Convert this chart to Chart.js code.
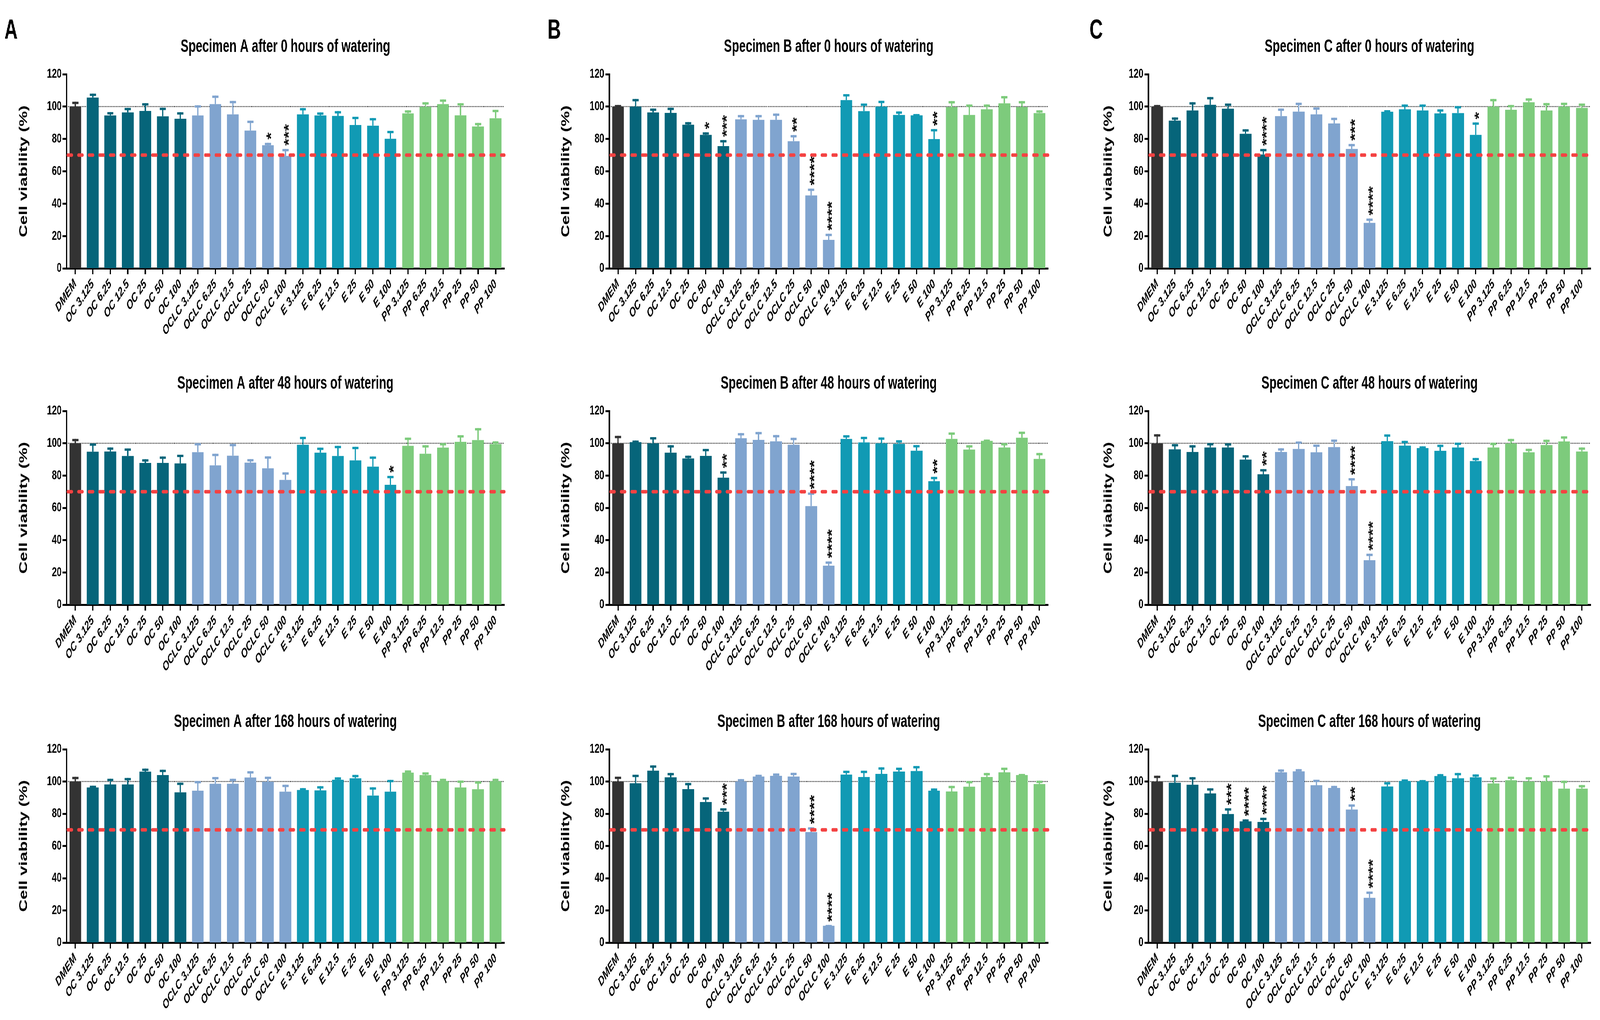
<!DOCTYPE html>
<html>
<head>
<meta charset="utf-8">
<script src="https://cdn.jsdelivr.net/npm/chart.js@4.4.1/dist/chart.umd.min.js"></script>
<style>
  html, body { margin: 0; padding: 0; background: #fff; overflow: hidden; }
  #wrap { position: relative; overflow: hidden; background: #fff; }
  #page { position: absolute; left: 0; top: 0; width: 6206px; height: 2611px; background: #fff; transform-origin: 0 0; }
  #page canvas { position: absolute; }
</style>
</head>
<body>
<div id="wrap"><div id="page"></div></div>
<script>
// categories
const labels = ['DMEM', 'OC 3.125', 'OC 6.25', 'OC 12.5', 'OC 25', 'OC 50', 'OC 100',
  'OCLC 3.125', 'OCLC 6.25', 'OCLC 12.5', 'OCLC 25', 'OCLC 50', 'OCLC 100',
  'E 3.125', 'E 6.25', 'E 12.5', 'E 25', 'E 50', 'E 100',
  'PP 3.125', 'PP 6.25', 'PP 12.5', 'PP 25', 'PP 50', 'PP 100'];
const groupOf = [0, 1, 1, 1, 1, 1, 1, 2, 2, 2, 2, 2, 2, 3, 3, 3, 3, 3, 3, 4, 4, 4, 4, 4, 4];
const groupColors = ['#333333', '#06657a', '#80a4cf', '#119ab4', '#7dcb7c'];
const yTicks = [0, 20, 40, 60, 80, 100, 120];
const titles = [
  ['Specimen A after 0 hours of watering', 'Specimen B after 0 hours of watering', 'Specimen C after 0 hours of watering'],
  ['Specimen A after 48 hours of watering', 'Specimen B after 48 hours of watering', 'Specimen C after 48 hours of watering'],
  ['Specimen A after 168 hours of watering', 'Specimen B after 168 hours of watering', 'Specimen C after 168 hours of watering']
];
const letters = ['A', 'B', 'C'];

// means, upper error (SD) and significance marks, one set per panel
const meanA0 = [100, 105.6, 94.5, 96.4, 97.3, 94.0, 92.5, 94.5, 101.5, 95.2, 85.2, 76.1, 69.5, 95.2, 94.5, 94.2, 88.6, 88.2, 80.1, 95.8, 99.9, 101.5, 94.6, 87.7, 92.8];
const errA0 = [3.0, 2.4, 2.1, 2.8, 4.8, 5.3, 4.0, 6.3, 5.3, 8.3, 6.1, 1.5, 4.3, 3.9, 1.9, 3.0, 5.1, 4.7, 4.9, 1.9, 2.8, 2.9, 7.5, 2.2, 5.2];
const starsA0 = ['', '', '', '', '', '', '', '', '', '', '', '*', '***', '', '', '', '', '', '', '', '', '', '', '', ''];

const meanB0 = [100, 100, 96.4, 96.1, 88.8, 82.5, 75.6, 92.1, 91.8, 91.8, 78.6, 45.1, 17.6, 104, 97.2, 100, 94.8, 94.6, 79.9, 99.7, 94.8, 98.3, 102, 99.7, 96];
const errB0 = [1.0, 4.7, 2.4, 3.2, 1.6, 1.6, 3.7, 2.7, 3.0, 3.9, 3.8, 4.2, 3.8, 3.7, 4.7, 3.6, 2.2, 0.8, 6.2, 3.7, 6.5, 3.0, 4.5, 3.7, 1.7];
const starsB0 = ['', '', '', '', '', '*', '***', '', '', '', '**', '****', '****', '', '', '', '', '', '**', '', '', '', '', '', ''];

const meanC0 = [100, 91.3, 97.6, 101.1, 98.7, 83.2, 70.4, 94.1, 96.9, 95.2, 89.6, 73.8, 28.1, 96.8, 98.3, 97.6, 95.8, 96.0, 82.5, 100, 98, 102.7, 97.6, 100, 99.2];
const errC0 = [1.0, 2.0, 5.1, 4.8, 3.2, 2.8, 3.4, 4.7, 5.5, 4.3, 3.5, 3.1, 2.7, 1.0, 3.0, 3.7, 2.5, 4.3, 7.7, 4.7, 3.0, 2.4, 4.6, 2.4, 2.7];
const starsC0 = ['', '', '', '', '', '', '****', '', '', '', '', '***', '****', '', '', '', '', '', '*', '', '', '', '', '', ''];

const meanA48 = [100, 94.8, 94.9, 92.1, 87.8, 87.8, 87.5, 94.5, 86.3, 92.3, 88, 84.5, 77.3, 99.1, 94.2, 92.1, 89.4, 85.5, 74.3, 98.4, 93.5, 97.3, 100.9, 102, 99.5];
const errA48 = [2.7, 5.1, 2.5, 4.7, 2.3, 4.0, 5.4, 5.6, 7.2, 7.3, 2.2, 7.4, 4.7, 4.9, 3.1, 6.3, 8.4, 6.3, 5.5, 5.1, 5.3, 2.8, 4.1, 7.4, 1.7];
const starsA48 = ['', '', '', '', '', '', '', '', '', '', '', '', '', '', '', '', '', '', '*', '', '', '', '', '', ''];

const meanB48 = [100, 100.7, 100, 94.2, 90.6, 92.2, 78.7, 103.1, 102.1, 101.2, 99.1, 61.1, 24.2, 102.7, 100.5, 100, 99.6, 95.4, 76.5, 102.7, 96.1, 101.5, 97.4, 103.4, 90.3];
const errB48 = [4.6, 1.0, 3.8, 4.6, 1.7, 4.3, 3.9, 3.2, 4.9, 3.9, 4.3, 8.4, 2.6, 2.3, 3.5, 3.6, 2.3, 3.5, 2.7, 4.0, 2.7, 0.8, 2.7, 3.8, 3.7];
const starsB48 = ['', '', '', '', '', '', '**', '', '', '', '', '****', '****', '', '', '', '', '', '**', '', '', '', '', '', ''];

const meanC48 = [100, 96.2, 94.6, 97.4, 97.4, 89.9, 80.8, 94.6, 96.5, 94.4, 97.6, 73.5, 27.6, 101.3, 98.5, 97, 95.3, 97.4, 89, 97.4, 99.9, 94.4, 98.9, 101.1, 94.9];
const errC48 = [5.6, 3.3, 4.2, 2.7, 2.6, 2.7, 3.2, 2.3, 4.6, 4.8, 4.7, 4.9, 4.0, 4.2, 3.0, 1.1, 3.8, 3.0, 1.9, 2.9, 2.8, 2.2, 3.3, 3.2, 2.5];
const starsC48 = ['', '', '', '', '', '', '**', '', '', '', '', '****', '****', '', '', '', '', '', '', '', '', '', '', '', ''];

const meanA168 = [100, 96.3, 98.2, 98.2, 106.1, 104, 93.3, 94.3, 98.6, 98.6, 102.5, 99.9, 93.7, 94.7, 94.5, 101.1, 102, 91.3, 93.7, 105.5, 104, 100.3, 96.3, 95.2, 100.2];
const errA168 = [2.9, 1.1, 3.5, 4.0, 1.9, 3.3, 6.0, 6.0, 4.2, 3.1, 3.9, 3.1, 4.3, 1.2, 2.6, 1.5, 2.1, 5.1, 7.3, 1.4, 1.7, 1.4, 4.3, 4.9, 1.5];
const starsA168 = ['', '', '', '', '', '', '', '', '', '', '', '', '', '', '', '', '', '', '', '', '', '', '', '', ''];

const meanB168 = [100, 98.9, 106.7, 102.6, 95.3, 87.3, 81.3, 100, 103.1, 103.5, 103.1, 68.6, 10.5, 104.3, 102.8, 104.7, 106.2, 106.5, 94.3, 93.8, 96.8, 102.8, 105.7, 104, 98.4];
const errB168 = [3.0, 5.3, 3.3, 2.7, 3.8, 2.9, 2.1, 1.5, 1.1, 1.5, 2.3, 3.0, 0.5, 2.4, 3.9, 4.1, 2.4, 3.1, 1.4, 3.5, 3.5, 2.5, 2.9, 0.7, 2.1];
const starsB168 = ['', '', '', '', '', '', '***', '', '', '', '', '****', '****', '', '', '', '', '', '', '', '', '', '', '', ''];

const meanC168 = [100, 99.2, 98, 92.6, 79.8, 75.3, 74.9, 105.7, 106.3, 97.7, 96, 82.6, 27.8, 96.9, 100.3, 100.1, 103.4, 102, 102.6, 98.8, 100.8, 100, 100.1, 95.6, 95.6];
const errC168 = [3.6, 5.0, 4.7, 3.2, 3.6, 1.2, 2.6, 1.8, 1.4, 3.4, 1.3, 3.2, 3.9, 2.7, 1.0, 0.8, 1.2, 3.3, 1.8, 3.8, 2.2, 2.7, 3.8, 4.9, 2.2];
const starsC168 = ['', '', '', '', '***', '****', '****', '', '', '', '', '**', '****', '', '', '', '', '', '', '', '', '', '', '', ''];

const viabilityLimit = 70;
const controlLevel = 100;

// page layout (design pixels, 6206 x 2611)
const FONT = "'Liberation Sans', Arial, Helvetica, sans-serif";
const PAGE_W = 6206, PAGE_H = 2611;
const colLeft = [0, 2078, 4136];
const colWidth = [2078, 2058, 2070];
const rowTop = [0, 870, 1740];
const rowHeight = [870, 870, 871];
const axisLeft = [258, 285, 318];
const rightPad = [122, 70, 36];
const plotTop = [190, 182, 178];
const plotBottom = [687, 678, 673];
const yTitleX = [93, 118, 164];
const letterX = [17, 46, 90];

const panelData = [
  [[meanA0, errA0, starsA0], [meanB0, errB0, starsB0], [meanC0, errC0, starsC0]],
  [[meanA48, errA48, starsA48], [meanB48, errB48, starsB48], [meanC48, errC48, starsC48]],
  [[meanA168, errA168, starsA168], [meanB168, errB168, starsB168], [meanC168, errC168, starsC168]]
];

const barColors = groupOf.map(g => groupColors[g]);

// stretch the design page over the whole viewport we are given
const vw = window.innerWidth || PAGE_W, vh = window.innerHeight || PAGE_H;
const SX = vw / PAGE_W, SY = vh / PAGE_H;
const DPR = Math.max(SX, SY) * (window.devicePixelRatio || 1);

function decoPlugin(r, c, mean, err, stars) {
  return {
    id: 'deco' + r + c,
    beforeDatasetsDraw(chart) {
      const ctx = chart.ctx, a = chart.chartArea, y = chart.scales.y;
      const y100 = y.getPixelForValue(controlLevel);
      ctx.save();
      ctx.strokeStyle = '#111';
      ctx.lineWidth = 2.5;
      ctx.setLineDash([3, 3]);
      ctx.beginPath();
      ctx.moveTo(a.left, y100);
      ctx.lineTo(a.right, y100);
      ctx.stroke();
      ctx.restore();
    },
    afterDatasetsDraw(chart) {
      const ctx = chart.ctx, a = chart.chartArea, y = chart.scales.y;
      const bars = chart.getDatasetMeta(0).data;
      ctx.save();
      // error bars (upper only)
      bars.forEach((bar, i) => {
        const top = y.getPixelForValue(mean[i] + err[i]);
        ctx.strokeStyle = barColors[i];
        ctx.fillStyle = barColors[i];
        ctx.lineWidth = 5;
        ctx.beginPath();
        ctx.moveTo(bar.x, bar.y);
        ctx.lineTo(bar.x, top);
        ctx.stroke();
        ctx.fillRect(bar.x - 12, top, 24, 6);
      });
      // 70 % threshold
      const y70 = y.getPixelForValue(viabilityLimit);
      ctx.strokeStyle = '#f44242';
      ctx.lineWidth = 9;
      ctx.lineCap = 'round';
      ctx.setLineDash([16, 25]);
      ctx.beginPath();
      ctx.moveTo(a.left + 5, y70);
      ctx.lineTo(a.right, y70);
      ctx.stroke();
      ctx.setLineDash([]);
      // significance marks
      const fs = 48;
      ctx.fillStyle = '#111';
      ctx.font = 'bold ' + fs + 'px ' + FONT;
      ctx.textAlign = 'left';
      ctx.textBaseline = 'alphabetic';
      bars.forEach((bar, i) => {
        if (!stars[i]) return;
        const top = y.getPixelForValue(mean[i] + err[i]);
        ctx.save();
        ctx.translate(bar.x + 0.58 * fs, top - 8);
        ctx.rotate(-Math.PI / 2);
        ctx.fillText(stars[i], 0, 0);
        ctx.restore();
      });
      // titles
      ctx.fillStyle = '#000';
      ctx.font = 'bold 46px ' + FONT;
      ctx.textAlign = 'center';
      ctx.fillText(titles[r][c], (a.left + a.right) / 2, a.top - 57);
      if (r === 0) {
        ctx.font = 'bold 71px ' + FONT;
        ctx.textAlign = 'left';
        ctx.fillText(letters[c], letterX[c], 99);
      }
      ctx.save();
      ctx.translate(yTitleX[c], (a.top + a.bottom) / 2);
      ctx.rotate(-Math.PI / 2);
      ctx.font = 'bold 44px ' + FONT;
      ctx.textAlign = 'center';
      ctx.textBaseline = 'middle';
      ctx.fillText('Cell viability (%)', 0, 0);
      ctx.restore();
      ctx.restore();
    }
  };
}

const wrap = document.getElementById('wrap');
wrap.style.width = vw + 'px';
wrap.style.height = vh + 'px';
const page = document.getElementById('page');
page.style.transform = 'scale(' + SX + ',' + SY + ')';
for (let r = 0; r < 3; r++) {
  for (let c = 0; c < 3; c++) {
    const [mean, err, stars] = panelData[r][c];
    const cv = document.createElement('canvas');
    cv.width = colWidth[c];
    cv.height = rowHeight[r];
    cv.style.left = colLeft[c] + 'px';
    cv.style.top = rowTop[r] + 'px';
    page.appendChild(cv);
    const H = rowHeight[r];
    new Chart(cv, {
      type: 'bar',
      data: {
        labels: labels,
        datasets: [{
          data: mean,
          backgroundColor: barColors,
          borderWidth: 0,
          barPercentage: 0.67,
          categoryPercentage: 1
        }]
      },
      options: {
        responsive: false,
        animation: false,
        devicePixelRatio: DPR,
        layout: { padding: { left: 0, top: plotTop[r], right: rightPad[c], bottom: 0 } },
        plugins: { legend: { display: false }, tooltip: { enabled: false }, title: { display: false } },
        scales: {
          x: {
            grid: { display: true, drawOnChartArea: false, offset: false, tickLength: 15, tickWidth: 5, tickColor: '#000' },
            border: { display: true, color: '#000', width: 5 },
            ticks: {
              autoSkip: false, maxRotation: 45, minRotation: 45, padding: 6, color: '#000',
              font: { family: FONT, size: 33, weight: 'bold', style: 'italic' }
            },
            afterFit: s => { s.height = H - plotBottom[r]; }
          },
          y: {
            min: 0, max: 120,
            afterBuildTicks: s => { s.ticks = yTicks.map(v => ({ value: v })); },
            grid: { display: true, drawOnChartArea: false, tickLength: 15, tickWidth: 5, tickColor: '#000' },
            border: { display: true, color: '#000', width: 5 },
            ticks: { padding: 4, color: '#000', font: { family: FONT, size: 34, weight: 'bold' } },
            afterFit: s => { s.width = axisLeft[c]; }
          }
        }
      },
      plugins: [decoPlugin(r, c, mean, err, stars)]
    });
  }
}
</script>
</body>
</html>
